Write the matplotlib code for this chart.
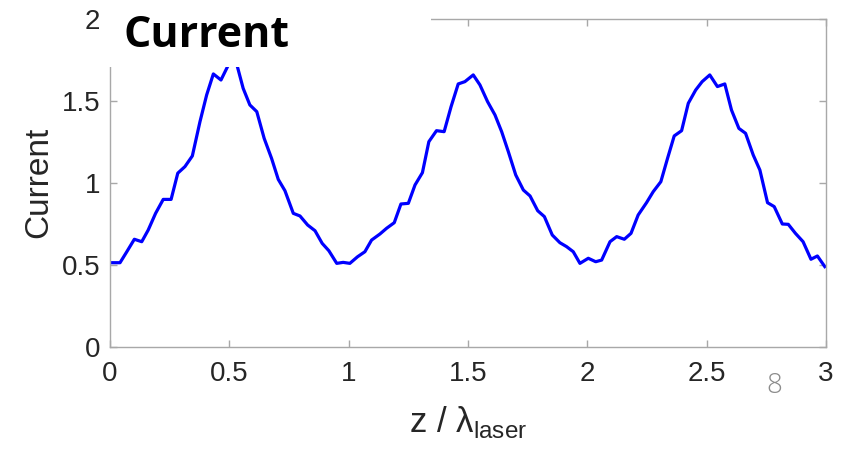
import matplotlib
matplotlib.use("Agg")
import matplotlib.pyplot as plt
from matplotlib.patches import Rectangle

# current along the undulator, in units of the laser wavelength
z = [0.0, 0.042, 0.07, 0.102, 0.133, 0.16, 0.191, 0.223, 0.256, 0.284,
     0.314, 0.345, 0.377, 0.405, 0.433, 0.465, 0.496, 0.53, 0.558, 0.586,
     0.615, 0.646, 0.677, 0.705, 0.733, 0.768, 0.796, 0.828, 0.859, 0.889,
     0.917, 0.95, 0.977, 1.005, 1.037, 1.068, 1.096, 1.131, 1.159, 1.191,
     1.219, 1.25, 1.278, 1.309, 1.336, 1.368, 1.4, 1.429, 1.459, 1.487,
     1.522, 1.55, 1.582, 1.613, 1.641, 1.669, 1.7, 1.732, 1.76, 1.792,
     1.82, 1.853, 1.885, 1.913, 1.941, 1.969, 2.004, 2.035, 2.06, 2.095,
     2.123, 2.155, 2.183, 2.213, 2.248, 2.276, 2.308, 2.336, 2.364, 2.395,
     2.423, 2.454, 2.481, 2.513, 2.545, 2.576, 2.604, 2.635, 2.663, 2.695,
     2.723, 2.755, 2.783, 2.817, 2.842, 2.872, 2.904, 2.937, 2.964, 2.995]
current = [0.514, 0.514, 0.58, 0.657, 0.642, 0.713, 0.815, 0.9, 0.9, 1.06,
           1.10, 1.165, 1.374, 1.537, 1.665, 1.628, 1.72, 1.73, 1.577, 1.476,
           1.435, 1.272, 1.15, 1.022, 0.953, 0.815, 0.799, 0.744, 0.709, 0.632,
           0.587, 0.51, 0.516, 0.51, 0.55, 0.581, 0.652, 0.689, 0.724, 0.758,
           0.872, 0.876, 0.988, 1.063, 1.252, 1.319, 1.313, 1.465, 1.604, 1.618,
           1.659, 1.598, 1.496, 1.415, 1.313, 1.191, 1.049, 0.957, 0.921, 0.831,
           0.795, 0.683, 0.636, 0.612, 0.581, 0.51, 0.541, 0.52, 0.53, 0.642,
           0.673, 0.657, 0.693, 0.805, 0.88, 0.947, 1.008, 1.15, 1.287, 1.319,
           1.486, 1.567, 1.618, 1.659, 1.588, 1.604, 1.445, 1.333, 1.303, 1.171,
           1.079, 0.88, 0.856, 0.75, 0.748, 0.693, 0.642, 0.535, 0.555, 0.49]

xticks = [0, 0.5, 1, 1.5, 2, 2.5, 3]
xticklabels = ['0', '0.5', '1', '1.5', '2', '2.5', '3']
yticks = [0, 0.5, 1, 1.5, 2]
yticklabels = ['0', '0.5', '1', '1.5', '2']

plt.rcParams['font.family'] = ['Liberation Sans', 'DejaVu Sans']

W, H = 858, 450
fig = plt.figure(figsize=(W / 100, H / 100), dpi=100)
ax = fig.add_axes([110 / W, 1 - 347 / H, 716 / W, 328 / H])

ax.plot(z, current, color='#0000ff', lw=2.3)

ax.set_xlim(0, 3)
ax.set_ylim(0, 2)
ax.set_xticks(xticks)
ax.set_xticklabels(xticklabels)
ax.set_yticks(yticks)
ax.set_yticklabels(yticklabels)

grey = '#a8a8a8'
for s in ax.spines.values():
    s.set_color(grey)
    s.set_linewidth(1.0)
ax.tick_params(direction='in', top=True, right=True, length=5, width=1,
               color=grey, labelsize=20, labelcolor='#262626')
ax.tick_params(axis='x', pad=10)
ax.tick_params(axis='y', pad=7)

ax.set_xlabel('z / λ$_{\\mathregular{laser}}$', fontsize=25, color='#262626',
              labelpad=12)
fig.text(38.5 / W, 1 - 182 / H, 'Current', rotation=90, ha='center',
         va='center', fontsize=24, color='#262626')

# white title box sitting over the top-left corner of the axes
fig.add_artist(Rectangle((104 / W, 1 - 67 / H), (431 - 104) / W, 67 / H,
                         transform=fig.transFigure, facecolor='white',
                         edgecolor='none', zorder=5))
fig.text(123 / W, 1 - 47 / H, 'Current', family='Open Sans',
         fontweight='bold', fontsize=31, ha='left', va='baseline', zorder=6)

# page number
fig.text(774 / W, 1 - 386 / H, '8', family='Open Sans', fontweight='light',
         fontsize=20, color='#8c8c8c', ha='center', va='center')

fig.savefig('out.png', dpi=100)
